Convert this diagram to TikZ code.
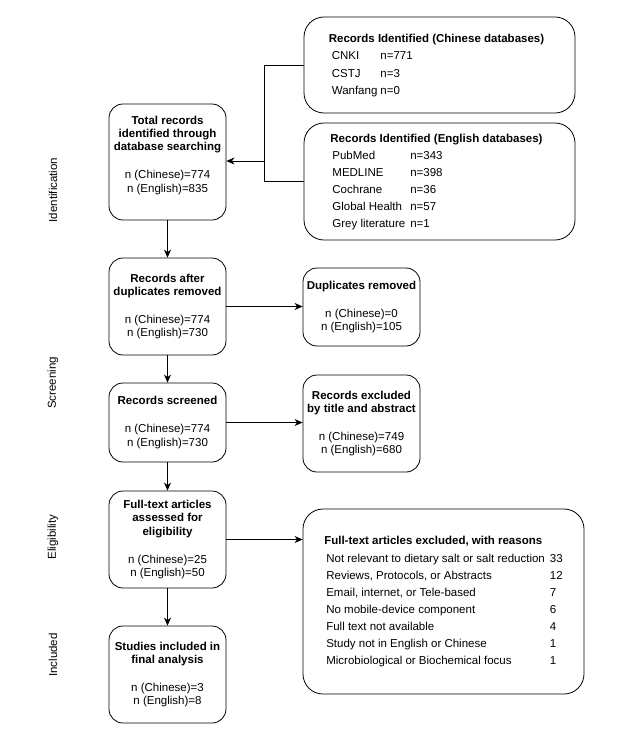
\documentclass[tikz,border=0pt]{standalone}
\usepackage{fontspec}
\setmainfont{Liberation Sans}
\usetikzlibrary{arrows.meta}
\renewcommand{\arraystretch}{1.29}

\begin{document}
\begin{tikzpicture}[x=1pt, y=-1pt,
    font=\fontsize{11.5}{13.3}\selectfont,
    box/.style={draw, line width=0.8pt, rounded corners=14pt, align=center, inner sep=0pt},
    dbbox/.style={box, rounded corners=20pt},
    side/.style={rotate=90},
    >={Stealth[length=8pt, width=7pt, inset=2.5pt]}]
    \useasboundingbox (0,0) rectangle (638,737);

    % stage labels
    \node[side](s1) at (53,190) {Identification};
    \node[side](s2) at (53,383) {Screening};
    \node[side](s3) at (53,537) {Eligibility};
    \node[side](s4) at (53,655) {Included};

    % main column
    \node[box, minimum width=117pt, minimum height=116pt](tot) at (167.5,162)
        {\textbf{Total records}\\\textbf{identified through}\\\textbf{database searching}\\[14.5pt]
         n (Chinese)=774\\n (English)=835\rule[-16pt]{0pt}{0pt}};
    \node[box, minimum width=117pt, minimum height=97pt](dup) at (167.5,306.5)
        {\textbf{Records after}\\\textbf{duplicates removed}\\[14.5pt]
         n (Chinese)=774\\n (English)=730};
    \node[box, minimum width=117pt, minimum height=79pt](scr) at (167.5,422.5)
        {\textbf{Records screened}\\[14.5pt]
         n (Chinese)=774\\n (English)=730};
    \node[box, minimum width=117pt, minimum height=97pt](full) at (167.5,539.5)
        {\textbf{Full-text articles}\\\textbf{assessed for}\\\textbf{eligibility}\\[14.5pt]
         n (Chinese)=25\\n (English)=50};
    \node[box, minimum width=117pt, minimum height=97pt](inc) at (167.5,674.5)
        {\textbf{Studies included in}\\\textbf{final analysis}\\[14.5pt]
         n (Chinese)=3\\n (English)=8};

    % databases
    \node[dbbox, minimum width=271pt, minimum height=96pt](cn) at (439.5,65)
        {\begin{tabular}{@{\hspace{3pt}}l@{\hspace{3pt}}l@{}}
            \multicolumn{2}{@{}l}{\textbf{Records Identified (Chinese databases)}}\\
            CNKI & n=771\\
            CSTJ & n=3\\
            Wanfang & n=0
        \end{tabular}};
    \node[dbbox, minimum width=271pt, minimum height=117pt](en) at (439.5,181.5)
        {\begin{tabular}{@{\hspace{2pt}}l@{\hspace{5pt}}l@{}}
            \multicolumn{2}{@{}l}{\textbf{Records Identified (English databases)}}\\
            PubMed & n=343\\
            MEDLINE & n=398\\
            Cochrane & n=36\\
            Global Health & n=57\\
            Grey literature & n=1
        \end{tabular}};

    % exclusions
    \node[box, minimum width=117pt, minimum height=78pt](drm) at (361.5,307)
        {\textbf{Duplicates removed}\\[14.5pt]
         n (Chinese)=0\\n (English)=105};
    \node[box, minimum width=117pt, minimum height=97pt](exc) at (361.5,423.5)
        {\textbf{Records excluded}\\\textbf{by title and abstract}\\[14.5pt]
         n (Chinese)=749\\n (English)=680};
    \node[dbbox, minimum width=281pt, minimum height=185pt](rsn) at (443.5,601.5)
        {\begin{tabular}{@{\hspace{2pt}}l@{\hspace{5pt}}l@{}}
            \multicolumn{2}{@{}l}{\textbf{Full-text articles excluded, with reasons}}\\
            Not relevant to dietary salt or salt reduction & 33\\
            Reviews, Protocols, or Abstracts & 12\\
            Email, internet, or Tele-based & 7\\
            No mobile-device component & 6\\
            Full text not available & 4\\
            Study not in English or Chinese & 1\\
            Microbiological or Biochemical focus & 1
        \end{tabular}};

    % bracket joining the two database boxes
    \coordinate (j) at (264,161);
    \draw[line width=0.8pt] (cn.west) -| (j |- en.west) -- (en.west);
    \draw[line width=0.8pt, ->] (j) -- (tot.east |- j);

    \draw[line width=0.8pt, ->] (tot) -- (dup);
    \draw[line width=0.8pt, ->] (dup) -- (scr);
    \draw[line width=0.8pt, ->] (scr) -- (full);
    \draw[line width=0.8pt, ->] (full) -- (inc);

    \draw[line width=0.8pt, ->] (dup.east) -- (dup.east -| drm.west);
    \draw[line width=0.8pt, ->] (scr.east) -- (scr.east -| exc.west);
    \draw[line width=0.8pt, ->] (full.east) -- (full.east -| rsn.west);

\end{tikzpicture}
\end{document}
